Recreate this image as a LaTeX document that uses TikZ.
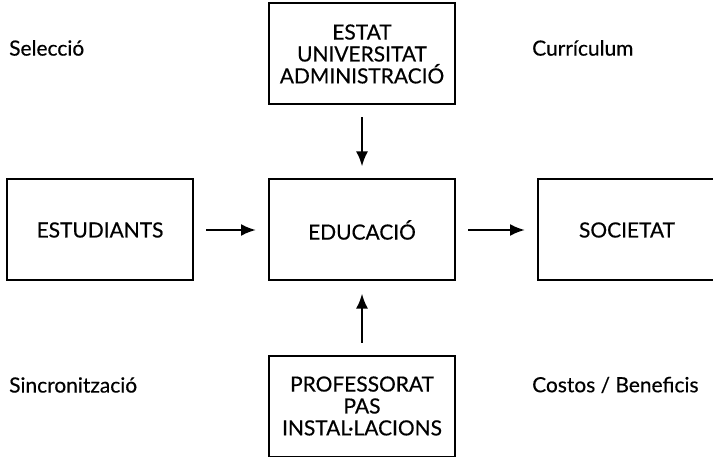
\documentclass[tikz,border=0pt]{standalone}
\usepackage{fontspec}
\setmainfont[FakeBold=0.4,AutoFakeBold=0.4]{Lato}
\usetikzlibrary{positioning,arrows.meta}
\tikzset{
    block/.style={
        draw, rectangle, line width=2bp,
        minimum width=186bp, minimum height=101bp,
        inner sep=0pt, align=center, text=black,
        font=\fontsize{21}{22}\selectfont
    },
     connect/.style={-{Latex[length=15bp,width=12bp]}, line width=2.4bp,
        shorten <=12bp, shorten >=12bp},
     note/.style={anchor=west, inner sep=0pt, font=\fontsize{21}{22}\selectfont}
}
\begin{document}
\begin{tikzpicture}[x=1bp,y=-1bp]
	\useasboundingbox (0,0) rectangle (713,457);

	\node[block] (estudiants) at (100,230) {ESTUDIANTS};
	\node[block] (educacio) [right=74bp of estudiants] {EDUCACIÓ};
	\node[block,minimum width=178bp] (societat) [right=81bp of educacio] {SOCIETAT};
	\node[block] (estat) [above=73bp of educacio] {ESTAT\\UNIVERSITAT\\ADMINISTRACIÓ};
	\node[block] (professorat) [below=73bp of educacio] {PROFESSORAT\\PAS\\INSTAL·LACIONS};

	\node[note] (seleccio) at (9,48) {Selecció};
	\node[note] (curriculum) at (532,48) {Currículum};
	\node[note] (sincro) at (9,385) {Sincronització};
	\node[note] (costos) at (532,385) {Costos / Beneficis};

	\draw[connect] (estudiants) -- (educacio);
	\draw[connect] (educacio) -- (societat);
	\draw[connect] (estat) -- (educacio);
	\draw[connect] (professorat) -- (educacio);
\end{tikzpicture}
\end{document}
